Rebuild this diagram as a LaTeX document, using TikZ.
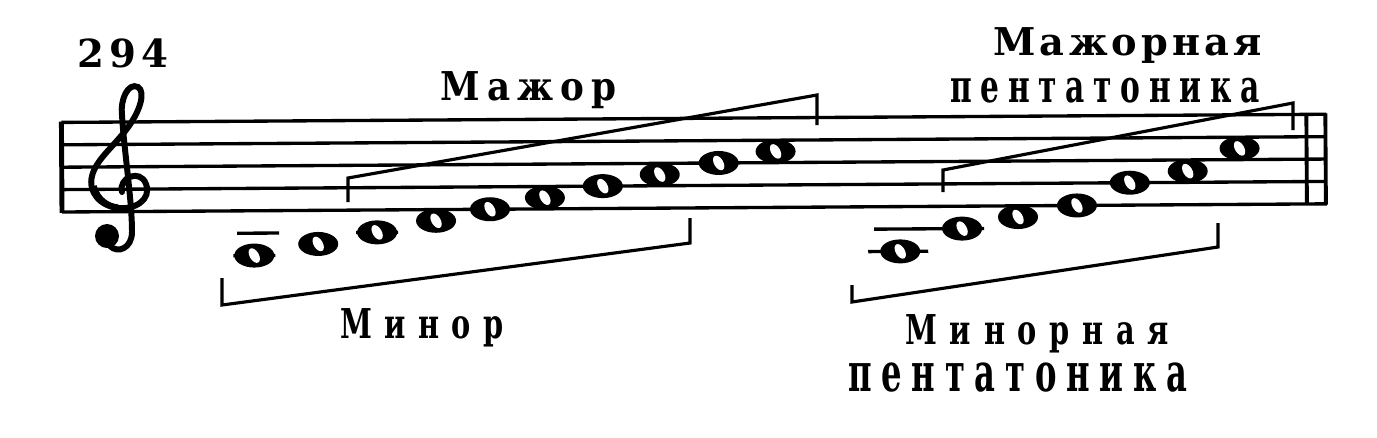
\documentclass[tikz,border=0pt]{standalone}
\usepackage{fontspec}
\newfontfamily\rufont{DejaVu Serif}
\usetikzlibrary{shapes.geometric}
\newcommand*{\RuFont}[3]{\rufont\bfseries\addfontfeatures{FakeStretch=#2,LetterSpace=#3}\fontsize{#1}{#1}\selectfont}
\newcommand*{\PutNotes}[1]{% #1 = list of x/y/name
  \foreach \x/\y/\name in {#1} {
    \node [wholenote] (\name) at (\x,\y) {};
    \fill[white, rotate around={30:(\x,\y)}] (\x,\y) ellipse (4.6 and 8);
  }%
}
\tikzset{
  wholenote/.style={ellipse, fill=black, inner sep=0pt, minimum width=0.8cm, minimum height=0.48cm},
  staffline/.style={line width=1.9pt},
  ledger/.style={line width=1.9pt},
  bracket/.style={line width=1.8pt, line join=miter},
  rulabel/.style={inner sep=0pt, anchor=base west},
}

\begin{document}
\begin{tikzpicture}[x=0.02cm, y=-0.02cm]
  \useasboundingbox (0,0) rectangle (1377,437);

  % staff, a little tilted as in the print
  \begin{scope}[rotate around={0.37:(62,212)}]
    \foreach \y in {122.4,144.8,167.2,189.6,212}
      \draw[staffline] (62,\y) -- (1327,\y);
    \draw[line width=2.8pt] (62,121.6) -- (62,212.8);
    \draw[line width=2.2pt] (1307,121.6) -- (1307,212.8);
    \draw[line width=2.2pt] (1326,121.6) -- (1326,212.8);

    % ledger lines
    \foreach \xa/\xb/\y in {233/275/256.8, 237/279/234.4, 356/398/234.4,
                            868/928/256.8, 874/984/234.4}
      \draw[ledger] (\xa,\y) -- (\xb,\y);

    % A minor and C major
    \PutNotes{254/256.8/a1, 318/245.6/a2, 377/234.4/a3, 436/223.2/a4, 490/212/a5,
      545/200.8/a6, 603/189.6/a7, 660/178.4/a8, 719/167.2/a9, 776/156/a10}
    % pentatonic
    \PutNotes{900/256.8/b1, 962/234.4/b2, 1018/223.2/b3, 1077/212/b4,
      1130/189.6/b5, 1188/178.4/b6, 1240/156/b7}
  \end{scope}

  % treble clef
  \draw[line width=3.4pt, line cap=round] (122,192)
    .. controls (118,178) and (140,168) .. (146,184)
    .. controls (152,200) and (134,210) .. (118,208)
    .. controls (100,206) and (88,192) .. (92,176)
    .. controls (96,160) and (112,148) .. (126,130)
    .. controls (140,112) and (146,92) .. (138,87)
    .. controls (128,82) and (120,100) .. (122,115)
    .. controls (124,150) and (132,200) .. (132,232)
    .. controls (132,248) and (118,254) .. (110,246);
  \draw[line width=3pt] (94,186) .. controls (98,200) and (108,206) .. (118,207);
  \fill (107,236) circle (12);

  % brackets
  \coordinate (maj1a) at (348,202); \coordinate (maj1b) at (348,178);
  \coordinate (maj1c) at (817,95);  \coordinate (maj1d) at (817,125);
  \draw[bracket] (maj1a) -- (maj1b) -- (maj1c) -- (maj1d);
  \coordinate (min1a) at (222,278); \coordinate (min1b) at (222,305);
  \coordinate (min1c) at (690,243); \coordinate (min1d) at (690,218);
  \draw[bracket] (min1a) -- (min1b) -- (min1c) -- (min1d);
  \coordinate (min2a) at (852,285); \coordinate (min2b) at (852,302);
  \coordinate (min2c) at (1218,247); \coordinate (min2d) at (1218,223);
  \draw[bracket] (min2a) -- (min2b) -- (min2c) -- (min2d);
  \coordinate (maj2a) at (943,192); \coordinate (maj2b) at (943,170);
  \coordinate (maj2c) at (1293,103); \coordinate (maj2d) at (1293,130);
  \draw[bracket] (maj2a) -- (maj2b) -- (maj2c) -- (maj2d);

  % labels
  \node[rulabel, font={\RuFont{22}{1}{13}}] (num) at (77,67) {294};
  \node[rulabel, font={\RuFont{22.6}{0.9}{18}}] (major) at (440,100) {Мажор};
  \node[rulabel, font={\RuFont{23.4}{0.7}{30}}] (minor) at (340,338) {Минор};
  \node[rulabel, font={\RuFont{21.8}{1}{11}}] (majpentaa) at (993,55) {Мажорная};
  \node[rulabel, font={\RuFont{26}{0.65}{19}}] (majpentab) at (950,102) {пентатоника};
  \node[rulabel, font={\RuFont{23.4}{0.7}{31}}] (minpentaa) at (905,344) {Минорная};
  \node[rulabel, font={\RuFont{30.6}{0.6}{18}}] (minpentab) at (848,391) {пентатоника};
\end{tikzpicture}
\end{document}
